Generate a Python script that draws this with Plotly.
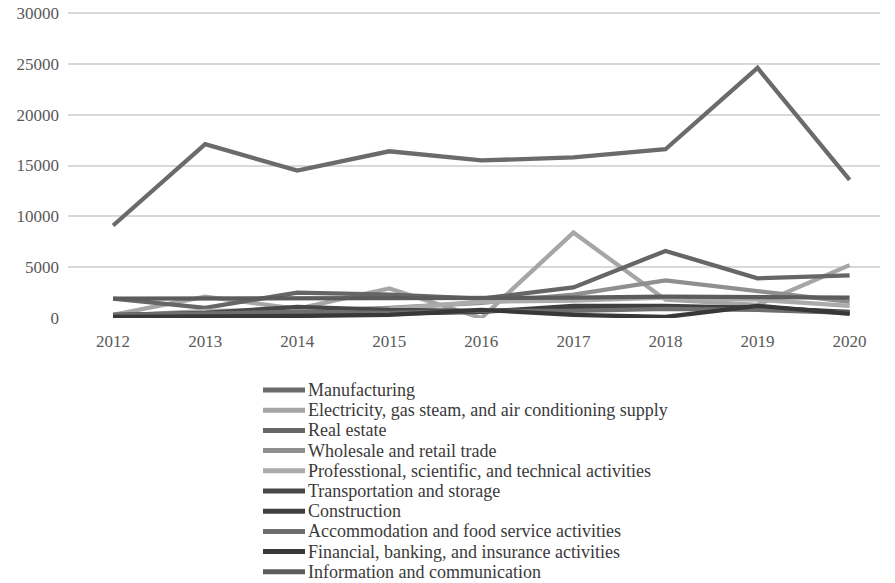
import plotly.graph_objects as go

years = [2012, 2013, 2014, 2015, 2016, 2017, 2018, 2019, 2020]
y_ticks = [0, 5000, 10000, 15000, 20000, 25000, 30000]

manufacturing = [9100, 17100, 14500, 16400, 15500, 15800, 16600, 24600, 13600]
electricity = [300, 2100, 900, 2900, 0, 8400, 1800, 1300, 5200]
real_estate = [1900, 1000, 2500, 2300, 1900, 3000, 6600, 3900, 4200]
wholesale = [200, 600, 700, 1000, 1500, 2300, 3700, 2600, 1600]
professional = [200, 700, 800, 900, 1600, 1700, 2000, 1800, 1200]
transportation = [300, 500, 1100, 800, 700, 900, 1000, 1100, 500]
construction = [200, 300, 500, 400, 600, 1200, 1200, 1000, 600]
accommodation = [300, 400, 600, 500, 700, 700, 900, 800, 500]
financial = [100, 100, 200, 300, 800, 300, 100, 1200, 400]
information = [1900, 1900, 2000, 2000, 2000, 2000, 2100, 2000, 2000]

series = [
    ("Manufacturing", manufacturing, "#6b6b6b"),
    ("Electricity, gas steam, and air conditioning supply", electricity, "#a6a6a6"),
    ("Real estate", real_estate, "#666666"),
    ("Wholesale and retail trade", wholesale, "#8f8f8f"),
    ("Professtional, scientific, and technical activities", professional, "#ababab"),
    ("Transportation and storage", transportation, "#474747"),
    ("Construction", construction, "#3f3f3f"),
    ("Accommodation and food service activities", accommodation, "#6e6e6e"),
    ("Financial, banking, and insurance activities", financial, "#383838"),
    ("Information and communication", information, "#5c5c5c"),
]

W, H = 895, 583
L, R, T, B = 68, 15, 10, 265
Y_MAX = 30300
plot_w = W - L - R
plot_h = H - T - B

def px_x(px):
    return (px - L) / plot_w

def px_y(py):
    return (H - B - py) / plot_h

fig = go.Figure()
for name, vals, col in series:
    fig.add_trace(go.Scatter(x=years, y=vals, mode="lines", name=name,
                             line=dict(color=col, width=4.3), showlegend=False))

# manual legend (compact, like the original)
leg_x0, leg_x1 = 263, 305
leg_y0, leg_dy = 390, 20.2
for i, (name, vals, col) in enumerate(series):
    yy = leg_y0 + i * leg_dy
    fig.add_shape(type="line", xref="paper", yref="paper",
                  x0=px_x(leg_x0), x1=px_x(leg_x1), y0=px_y(yy), y1=px_y(yy),
                  line=dict(color=col, width=5))
    fig.add_annotation(xref="paper", yref="paper", x=px_x(306), y=px_y(yy),
                       xanchor="left", yanchor="middle", text=name, showarrow=False,
                       font=dict(family="Liberation Serif", size=18, color="#3a3a3a"))

fig.update_layout(
    width=W, height=H,
    margin=dict(l=L, r=R, t=T, b=B, autoexpand=False),
    plot_bgcolor="white", paper_bgcolor="white",
    showlegend=False,
    xaxis=dict(range=[2011.51, 2020.33], tickmode="array", tickvals=years,
               ticktext=[str(y) for y in years], showgrid=False, zeroline=False,
               showline=False, ticks="", ticklabelstandoff=11,
               tickfont=dict(family="Liberation Serif", size=17, color="#595959")),
    yaxis=dict(range=[0, Y_MAX], tickmode="array", tickvals=y_ticks,
               ticktext=[str(v) for v in y_ticks],
               showgrid=True, gridcolor="#d9d9d9", gridwidth=1.5, zeroline=False,
               showline=False, ticks="", ticklabelstandoff=8,
               tickfont=dict(family="Liberation Serif", size=17, color="#595959")),
)

fig.write_html("out.html", config={"displayModeBar": False},
               post_script="document.body.style.margin='0';document.body.style.overflow='hidden';")
